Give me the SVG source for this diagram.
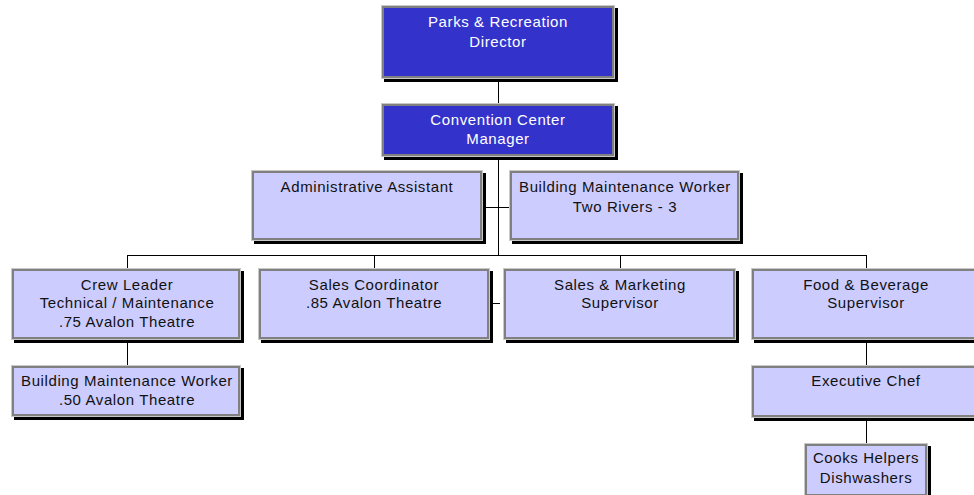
<svg xmlns="http://www.w3.org/2000/svg" width="974" height="495" viewBox="0 0 974 495">
<style>
  .shadow { fill: #000000; }
  .rim { fill: #c8c8c8; }
  .face { stroke: #808080; stroke-width: 2; }
  .dark .face { fill: #3333cc; }
  .light .face { fill: #ccccff; }
  text { font-family: "Liberation Sans", Arial, sans-serif; font-size: 15px; text-anchor: middle; letter-spacing: 0.6px; }
  .dark text { fill: #ffffff; }
  .light text { fill: #111111; }
  #connectors line { stroke: #000000; stroke-width: 1; shape-rendering: crispEdges; }
</style>
<rect x="0" y="0" width="974" height="495" fill="#ffffff"/>
<g id="connectors">
  <line x1="498.5" y1="79" x2="498.5" y2="103"/>
  <line x1="498.5" y1="157" x2="498.5" y2="256"/>
  <line x1="483" y1="207.5" x2="509" y2="207.5"/>
  <line x1="127.5" y1="255.5" x2="866.5" y2="255.5"/>
  <line x1="127.5" y1="255" x2="127.5" y2="268"/>
  <line x1="374.5" y1="255" x2="374.5" y2="268"/>
  <line x1="620.5" y1="255" x2="620.5" y2="268"/>
  <line x1="866.5" y1="255" x2="866.5" y2="268"/>
  <line x1="492" y1="303.5" x2="500" y2="303.5"/>
  <line x1="127.5" y1="341" x2="127.5" y2="365"/>
  <line x1="866.5" y1="341" x2="866.5" y2="365"/>
  <line x1="866.5" y1="419" x2="866.5" y2="443"/>
</g>
<g id="director" class="node dark">
  <rect class="shadow" x="384" y="8" width="234" height="74"/>
  <rect class="rim" x="381" y="5" width="234" height="74"/>
  <rect class="face" x="383" y="7" width="230" height="70"/>
  <text x="498" y="27">Parks &amp; Recreation</text>
  <text x="498" y="47">Director</text>
</g>
<g id="manager" class="node dark">
  <rect class="shadow" x="384" y="106" width="234" height="54"/>
  <rect class="rim" x="381" y="103" width="234" height="54"/>
  <rect class="face" x="383" y="105" width="230" height="50"/>
  <text x="498" y="125">Convention Center</text>
  <text x="498" y="144">Manager</text>
</g>
<g id="admin" class="node light">
  <rect class="shadow" x="254" y="173" width="232" height="71"/>
  <rect class="rim" x="251" y="170" width="232" height="71"/>
  <rect class="face" x="253" y="172" width="228" height="67"/>
  <text x="367" y="192">Administrative Assistant</text>
</g>
<g id="bmw-two-rivers" class="node light">
  <rect class="shadow" x="512" y="173" width="231" height="71"/>
  <rect class="rim" x="509" y="170" width="231" height="71"/>
  <rect class="face" x="511" y="172" width="227" height="67"/>
  <text x="625" y="192">Building Maintenance Worker</text>
  <text x="625" y="212">Two Rivers - 3</text>
</g>
<g id="crew-leader" class="node light">
  <rect class="shadow" x="14" y="271" width="230" height="72"/>
  <rect class="rim" x="11" y="268" width="230" height="72"/>
  <rect class="face" x="13" y="270" width="226" height="68"/>
  <text x="127" y="290">Crew Leader</text>
  <text x="127" y="308">Technical / Maintenance</text>
  <text x="127" y="327">.75 Avalon Theatre</text>
</g>
<g id="sales-coordinator" class="node light">
  <rect class="shadow" x="261" y="271" width="232" height="72"/>
  <rect class="rim" x="258" y="268" width="232" height="72"/>
  <rect class="face" x="260" y="270" width="228" height="68"/>
  <text x="374" y="290">Sales Coordinator</text>
  <text x="374" y="308">.85 Avalon Theatre</text>
</g>
<g id="sales-marketing" class="node light">
  <rect class="shadow" x="506" y="271" width="233" height="72"/>
  <rect class="rim" x="503" y="268" width="233" height="72"/>
  <rect class="face" x="505" y="270" width="229" height="68"/>
  <text x="620" y="290">Sales &amp; Marketing</text>
  <text x="620" y="308">Supervisor</text>
</g>
<g id="food-beverage" class="node light">
  <rect class="shadow" x="754" y="271" width="232" height="72"/>
  <rect class="rim" x="751" y="268" width="232" height="72"/>
  <rect class="face" x="753" y="270" width="228" height="68"/>
  <text x="866" y="290">Food &amp; Beverage</text>
  <text x="866" y="308">Supervisor</text>
</g>
<g id="bmw-avalon" class="node light">
  <rect class="shadow" x="14" y="368" width="230" height="52"/>
  <rect class="rim" x="11" y="365" width="230" height="52"/>
  <rect class="face" x="13" y="367" width="226" height="48"/>
  <text x="127" y="386">Building Maintenance Worker</text>
  <text x="127" y="405">.50 Avalon Theatre</text>
</g>
<g id="executive-chef" class="node light">
  <rect class="shadow" x="754" y="368" width="232" height="53"/>
  <rect class="rim" x="751" y="365" width="232" height="53"/>
  <rect class="face" x="753" y="367" width="228" height="49"/>
  <text x="866" y="386">Executive Chef</text>
</g>
<g id="cooks-helpers" class="node light">
  <rect class="shadow" x="807" y="446" width="124" height="54"/>
  <rect class="rim" x="804" y="443" width="124" height="54"/>
  <rect class="face" x="806" y="445" width="120" height="50"/>
  <text x="866" y="463">Cooks Helpers</text>
  <text x="866" y="483">Dishwashers</text>
</g>
</svg>
